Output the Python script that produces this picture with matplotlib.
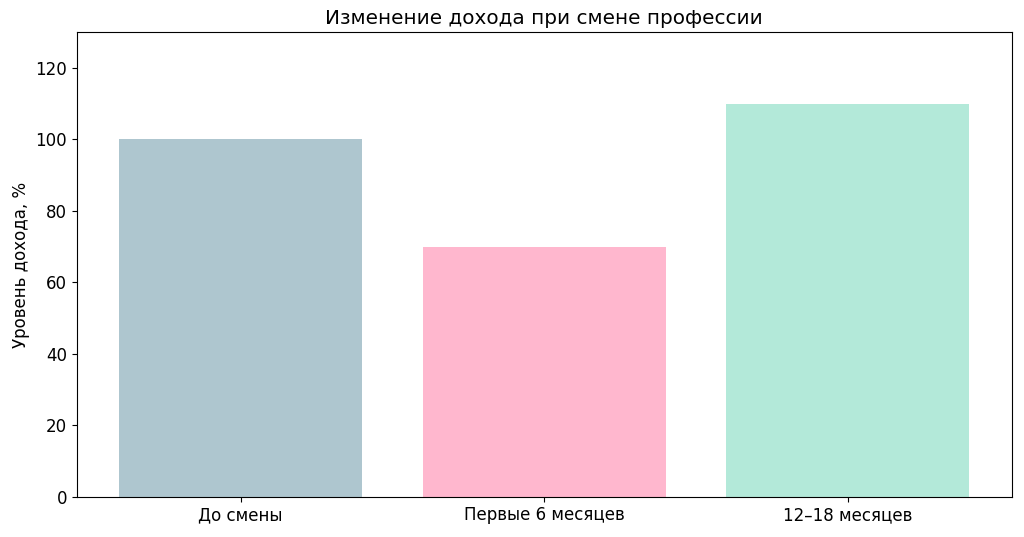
import matplotlib.pyplot as plt

categories = ["До смены", "Первые 6 месяцев", "12–18 месяцев"]
income = [100, 70, 110]
colors = ["#AEC6CF", "#FFB7CE", "#B3E9D9"]

fig, ax = plt.subplots(figsize=(10.24, 5.37), dpi=100)
fig.subplots_adjust(left=0.075, right=0.988, top=0.94, bottom=0.075)

ax.bar(categories, income, color=colors, width=0.8)
ax.set_ylim(0, 130)
ax.set_ylabel("Уровень дохода, %", fontsize=12)
ax.set_title("Изменение дохода при смене профессии", fontsize=14.4)
ax.tick_params(labelsize=12)

plt.savefig("out.png")
